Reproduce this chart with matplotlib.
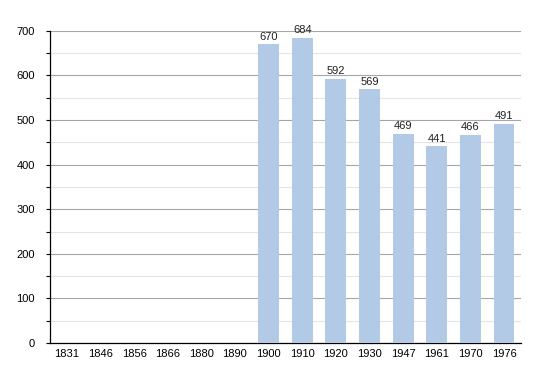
import numpy as np
import matplotlib
matplotlib.use('Agg')
import matplotlib.pyplot as plt

plt.rcParams['font.family'] = ['Liberation Sans', 'DejaVu Sans']

years = ['1831', '1846', '1856', '1866', '1880', '1890', '1900',
         '1910', '1920', '1930', '1947', '1961', '1970', '1976']
population = [np.nan, np.nan, np.nan, np.nan, np.nan, np.nan, 670,
              684, 592, 569, 469, 441, 466, 491]

fig = plt.figure(figsize=(5.5, 3.73), dpi=100)
ax = fig.add_axes([0.0909, 0.0804, 0.856, 0.837])

x = np.arange(len(years))
vals = np.array(population, dtype=float)
ax.bar(x, np.nan_to_num(vals), width=0.62, color='#b3cae6', zorder=3)

# value labels
for xi, v in zip(x, vals):
    if not np.isnan(v):
        ax.text(xi, v + 6, '%d' % v, ha='center', va='bottom', fontsize=8, color='#222222', zorder=4)

ax.set_xlim(-0.5, len(years) - 0.5)
ax.set_ylim(0, 700)
ax.set_yticks(range(0, 701, 100))
ax.set_yticks(range(50, 700, 100), minor=True)
ax.set_xticks(x)
ax.set_xticklabels(years)

ax.grid(axis='y', which='major', color='#a6a6a6', linewidth=0.8, zorder=0)
ax.grid(axis='y', which='minor', color='#e4e4e4', linewidth=0.8, zorder=0)

for s in ['top', 'right']:
    ax.spines[s].set_visible(False)
ax.spines['left'].set_linewidth(0.9)
ax.spines['bottom'].set_linewidth(0.9)

ax.tick_params(axis='y', which='both', length=3, width=0.8, labelsize=8, pad=8)
ax.tick_params(axis='x', length=0, labelsize=8, pad=4)

fig.savefig('out.png', dpi=100)
